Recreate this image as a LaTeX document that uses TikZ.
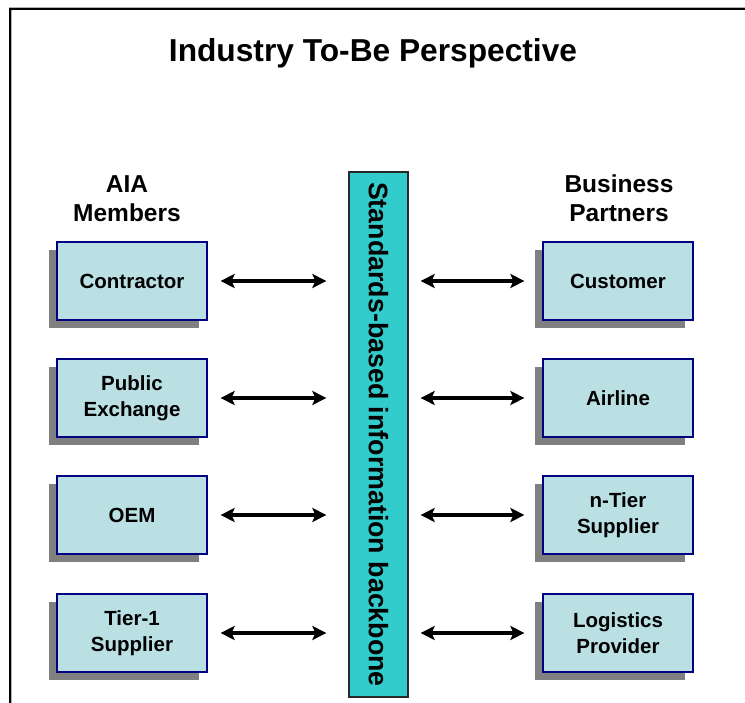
\documentclass[tikz,border=0pt]{standalone}
\usepackage{fontspec}
\setmainfont{Liberation Sans}
\usetikzlibrary{arrows.meta,shadows,calc}
\definecolor{boxfill}{RGB}{186,224,228}
\definecolor{boxline}{RGB}{0,0,128}
\definecolor{shadowgray}{RGB}{128,128,128}
\definecolor{barfill}{RGB}{51,204,204}
\definecolor{barline}{RGB}{40,40,40}
\tikzset{
  entity/.style={draw=boxline, line width=1.2pt, fill=boxfill,
    minimum width=150pt, minimum height=78pt, inner sep=0pt, align=center,
    font=\fontsize{20.5}{26}\selectfont\bfseries,
    general shadow={fill=shadowgray, shadow xshift=-8pt, shadow yshift=-8pt}},
  header/.style={font=\fontsize{24.5}{29}\selectfont\bfseries, anchor=base, inner sep=0pt},
  link/.style={line width=3.2pt, {Stealth[length=14pt,width=14pt,inset=3pt]}-{Stealth[length=14pt,width=14pt,inset=3pt]}},
  frameline/.style={line width=2pt, draw=black}
}
\begin{document}
\begin{tikzpicture}[x=1pt,y=-1pt]
\useasboundingbox (0,0) rectangle (745,703);
% frame
\coordinate (fbl) at (10,703);
\coordinate (ftl) at (10,9);
\coordinate (ftr) at (745,9);
\draw[line width=3pt, draw=gray!60] (fbl) -- (ftl) -- (ftr);
\draw[frameline] (fbl) -- (ftl) -- (ftr);
% title
\node[anchor=base, inner sep=0pt, font=\fontsize{31.7}{36}\selectfont\bfseries] (title) at (373,62) {Industry To-Be Perspective};
% headers
\node[header] (aia) at (127,193) {AIA};
\node[header] (members) at (127,222) {Members};
\node[header] (business) at (619,193) {Business};
\node[header] (partners) at (619,222) {Partners};
% backbone bar
\node[draw=barline, line width=1.3pt, fill=barfill, minimum width=59pt, minimum height=525pt, inner sep=0pt] (bar) at (378.5,434.5) {};
\node[rotate=-90, font=\fontsize{26.8}{30}\selectfont\bfseries, inner sep=0pt] (bartext) at (bar.center) {Standards-based information backbone};
% left boxes
\node[entity] (contractor) at (132,281) {Contractor};
\node[entity] (public) at (132,398) {Public\\Exchange};
\node[entity] (oem) at (132,515) {OEM};
\node[entity] (tier1) at (132,633) {Tier-1\\Supplier};
% right boxes
\node[entity] (customer) at (618,281) {Customer};
\node[entity] (airline) at (618,398) {Airline};
\node[entity] (ntier) at (618,515) {n-Tier\\Supplier};
\node[entity] (logistics) at (618,633) {Logistics\\Provider};
% arrows
\foreach \b in {contractor,public,oem,tier1}{
  \draw[link, shorten <=13pt, shorten >=22pt] (\b.east) -- (\b.east -| bar.west);
}
\foreach \b in {customer,airline,ntier,logistics}{
  \draw[link, shorten <=12pt, shorten >=18pt] (\b.west -| bar.east) -- (\b.west);
}
\end{tikzpicture}
\end{document}
